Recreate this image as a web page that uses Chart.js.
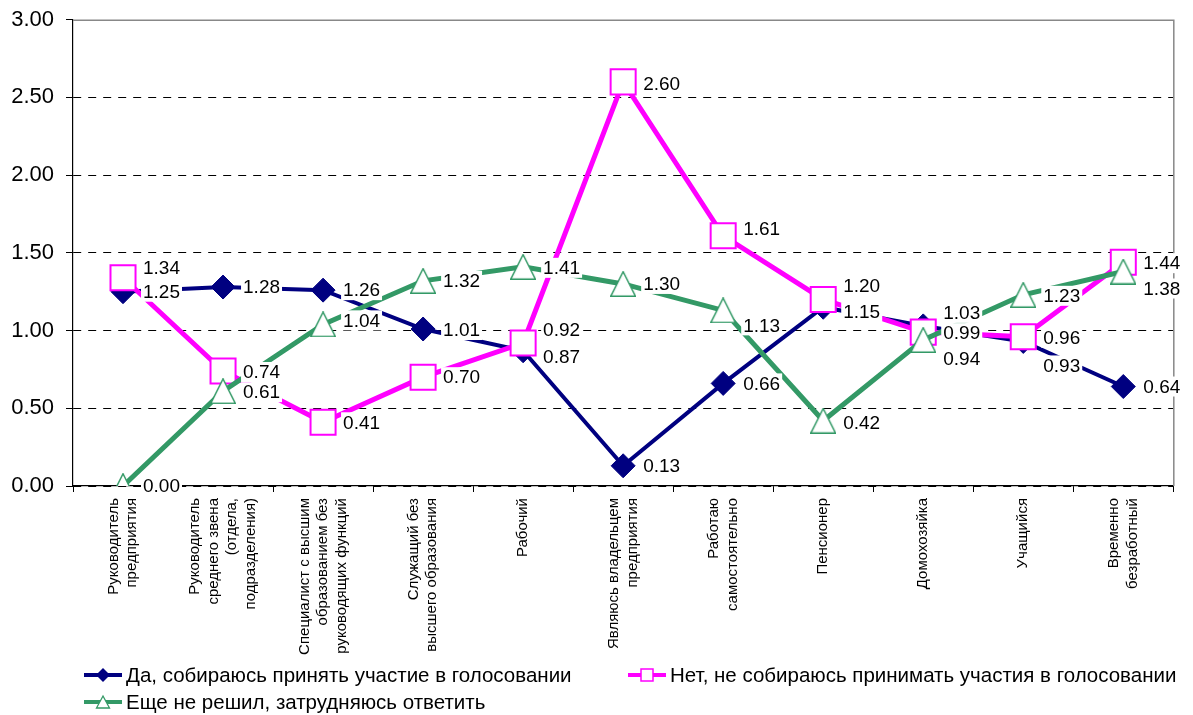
<!DOCTYPE html>
<html><head><meta charset="utf-8">
<script src="https://cdn.jsdelivr.net/npm/chart.js@4.4.0/dist/chart.umd.min.js"></script>
<style>html,body{margin:0;padding:0;background:#fff;}canvas{display:block;}</style>
</head><body>
<canvas id="c" width="1193" height="715"></canvas>
<script>
const categories = [
  ["Руководитель", "предприятия"],
  ["Руководитель", "среднего звена", "(отдела,", "подразделения)"],
  ["Специалист с высшим", "образованием без", "руководящих функций"],
  ["Служащий без", "высшего образования"],
  ["Рабочий"],
  ["Являюсь владельцем", "предприятия"],
  ["Работаю", "самостоятельно"],
  ["Пенсионер"],
  ["Домохозяйка"],
  ["Учащийся"],
  ["Временно", "безработный"]
];
const seriesNames = [
  "Да, собираюсь принять участие в голосовании",
  "Нет, не собираюсь принимать участия в голосовании",
  "Еще не решил, затрудняюсь ответить"
];
const yesValues = [1.25, 1.28, 1.26, 1.01, 0.87, 0.13, 0.66, 1.15, 1.03, 0.93, 0.64];
const noValues = [1.34, 0.74, 0.41, 0.70, 0.92, 2.60, 1.61, 1.20, 0.99, 0.96, 1.44];
const undecidedValues = [0.00, 0.61, 1.04, 1.32, 1.41, 1.30, 1.13, 0.42, 0.94, 1.23, 1.38];
const yTickValues = [0, 0.5, 1, 1.5, 2, 2.5, 3];

const FONT = '"Liberation Sans", Arial, sans-serif';
const NAVY = '#000080', MAGENTA = '#FF00FF', GREEN = '#339966';

function makeTriangle(w, h, lw, stroke, fill) {
  const c = document.createElement('canvas');
  c.width = w; c.height = h;
  const g = c.getContext('2d');
  g.beginPath();
  g.moveTo(w / 2, lw / 2);
  g.lineTo(w - lw / 2, h - lw / 2);
  g.lineTo(lw / 2, h - lw / 2);
  g.closePath();
  g.fillStyle = fill; g.fill();
  g.lineWidth = lw; g.strokeStyle = stroke; g.stroke();
  return c;
}
const triMarker = makeTriangle(26, 26, 1.5, GREEN, '#fff');

const frame = {
  id: 'frame',
  beforeDatasetsDraw(chart) {
    const a = chart.chartArea, ctx = chart.ctx;
    ctx.save();
    ctx.strokeStyle = '#888'; ctx.lineWidth = 1.5;
    ctx.beginPath();
    ctx.moveTo(a.left, a.top + 0.5); ctx.lineTo(a.right + 0.5, a.top + 0.5); ctx.lineTo(a.right + 0.5, a.bottom);
    ctx.stroke();
    ctx.restore();
  }
};

const valueLabels = {
  id: 'valueLabels',
  afterDatasetsDraw(chart, args, opts) {
    const ctx = chart.ctx;
    ctx.save();
    ctx.font = opts.font;
    ctx.textBaseline = 'middle';
    ctx.textAlign = 'left';
    [0, 1, 2].forEach(di => {
      const ds = chart.data.datasets[di];
      const meta = chart.getDatasetMeta(di);
      meta.data.forEach((pt, i) => {
        const txt = ds.data[i].toFixed(2);
        const x = pt.x + opts.dx;
        const y = pt.y + (opts.nudge[di][i] || 0);
        const w = ctx.measureText(txt).width;
        ctx.fillStyle = '#fff';
        ctx.fillRect(x - 2, y - 10, w + 4, 20);
        ctx.fillStyle = '#000';
        ctx.fillText(txt, x, y + 1);
      });
    });
    ctx.restore();
  }
};

const xLabels = {
  id: 'xLabels',
  afterDraw(chart, args, opts) {
    const ctx = chart.ctx, xs = chart.scales.x;
    ctx.save();
    ctx.font = opts.font;
    ctx.fillStyle = '#000';
    ctx.textAlign = 'right';
    ctx.textBaseline = 'middle';
    categories.forEach((lines, i) => {
      const x = xs.getPixelForValue(i);
      lines.forEach((line, j) => {
        const lx = x + (j - (lines.length - 1) / 2) * opts.lineHeight;
        ctx.save();
        ctx.translate(lx, xs.top + opts.gap);
        ctx.rotate(-Math.PI / 2);
        ctx.fillText(line, 0, 0);
        ctx.restore();
      });
    });
    ctx.restore();
  }
};

const customLegend = {
  id: 'customLegend',
  afterDraw(chart, args, opts) {
    const ctx = chart.ctx;
    ctx.save();
    ctx.font = opts.font;
    ctx.textBaseline = 'middle';
    ctx.textAlign = 'left';
    opts.items.forEach((it, k) => {
      const ds = chart.data.datasets[k];
      const cx = it.x + 19;
      ctx.strokeStyle = ds.borderColor; ctx.lineWidth = 4;
      ctx.beginPath(); ctx.moveTo(it.x, it.y); ctx.lineTo(it.x + 38, it.y); ctx.stroke();
      if (k === 0) {
        ctx.fillStyle = NAVY;
        ctx.beginPath();
        ctx.moveTo(cx - 7, it.y); ctx.lineTo(cx, it.y - 7); ctx.lineTo(cx + 7, it.y); ctx.lineTo(cx, it.y + 7);
        ctx.closePath(); ctx.fill();
      } else if (k === 1) {
        ctx.fillStyle = '#fff'; ctx.fillRect(cx - 6, it.y - 6, 12, 12);
        ctx.strokeStyle = MAGENTA; ctx.lineWidth = 1.5; ctx.strokeRect(cx - 6, it.y - 6, 12, 12);
      } else {
        ctx.fillStyle = '#fff'; ctx.strokeStyle = GREEN; ctx.lineWidth = 1.3;
        ctx.beginPath();
        ctx.moveTo(cx, it.y - 6); ctx.lineTo(cx + 6.5, it.y + 6); ctx.lineTo(cx - 6.5, it.y + 6);
        ctx.closePath(); ctx.fill(); ctx.stroke();
      }
      ctx.fillStyle = '#000';
      ctx.fillText(ds.label, it.x + 42, it.y + 1);
    });
    ctx.restore();
  }
};

new Chart(document.getElementById('c'), {
  type: 'line',
  data: {
    labels: categories,
    datasets: [
      {
        label: seriesNames[0], data: yesValues, order: 2,
        borderColor: NAVY, borderWidth: 4, tension: 0,
        pointStyle: 'rectRot', pointRadius: 12, pointBackgroundColor: NAVY, pointBorderColor: NAVY, pointBorderWidth: 1
      },
      {
        label: seriesNames[1], data: noValues, order: 1,
        borderColor: MAGENTA, borderWidth: 5, tension: 0,
        pointStyle: 'rect', pointRadius: 17.7, pointBackgroundColor: '#fff', pointBorderColor: MAGENTA, pointBorderWidth: 2
      },
      {
        label: seriesNames[2], data: undecidedValues, order: 0,
        borderColor: GREEN, borderWidth: 5, tension: 0,
        pointStyle: triMarker, pointRadius: 13
      }
    ]
  },
  options: {
    responsive: false,
    devicePixelRatio: 1,
    animation: false,
    layout: { padding: { left: 0, top: 18, right: 17, bottom: 0 } },
    plugins: {
      legend: { display: false },
      tooltip: { enabled: false },
      valueLabels: {
        font: '19px ' + FONT,
        dx: 20,
        nudge: [
          [0, 0, 0, 1, 6, 0, 0, 5, -13, 24, 0],
          [-10, 1, 0, 0, -13, 2, -7, -14, 1, 1, 1],
          [0, 1, -4, 0, 1, 0, 15, 2, 19, 1, 17]
        ]
      },
      xLabels: { font: '15px ' + FONT, lineHeight: 18.5, gap: 12 },
      customLegend: {
        font: '20.5px ' + FONT,
        items: [{ x: 84, y: 675 }, { x: 628, y: 675 }, { x: 84, y: 702 }]
      }
    },
    scales: {
      x: {
        type: 'category',
        offset: true,
        grid: { display: true, drawOnChartArea: false, drawTicks: true, tickLength: 6, color: '#000', tickColor: '#000', offset: true },
        border: { display: true, color: '#000', width: 1.2 },
        ticks: { display: false },
        afterFit(s) { s.height = 229; s.paddingLeft = 0; s.paddingRight = 0; }
      },
      y: {
        min: 0, max: 3,
        afterBuildTicks(s) { s.ticks = yTickValues.map(v => ({ value: v })); },
        grid: {
          color: ctx => (ctx.tick && ctx.tick.value === 3) ? 'rgba(0,0,0,0)' : '#000',
          tickColor: '#000', lineWidth: 1, tickLength: 7, drawTicks: true
        },
        border: { display: true, color: '#000', width: 1.2, dash: [8, 7] },
        ticks: {
          font: { family: FONT, size: 22 }, color: '#000', padding: 12,
          callback: v => Number(v).toFixed(2)
        },
        afterFit(s) { s.width = 73; s.paddingTop = 0; s.paddingBottom = 0; }
      }
    }
  },
  plugins: [frame, valueLabels, xLabels, customLegend]
});
</script>
</body></html>
